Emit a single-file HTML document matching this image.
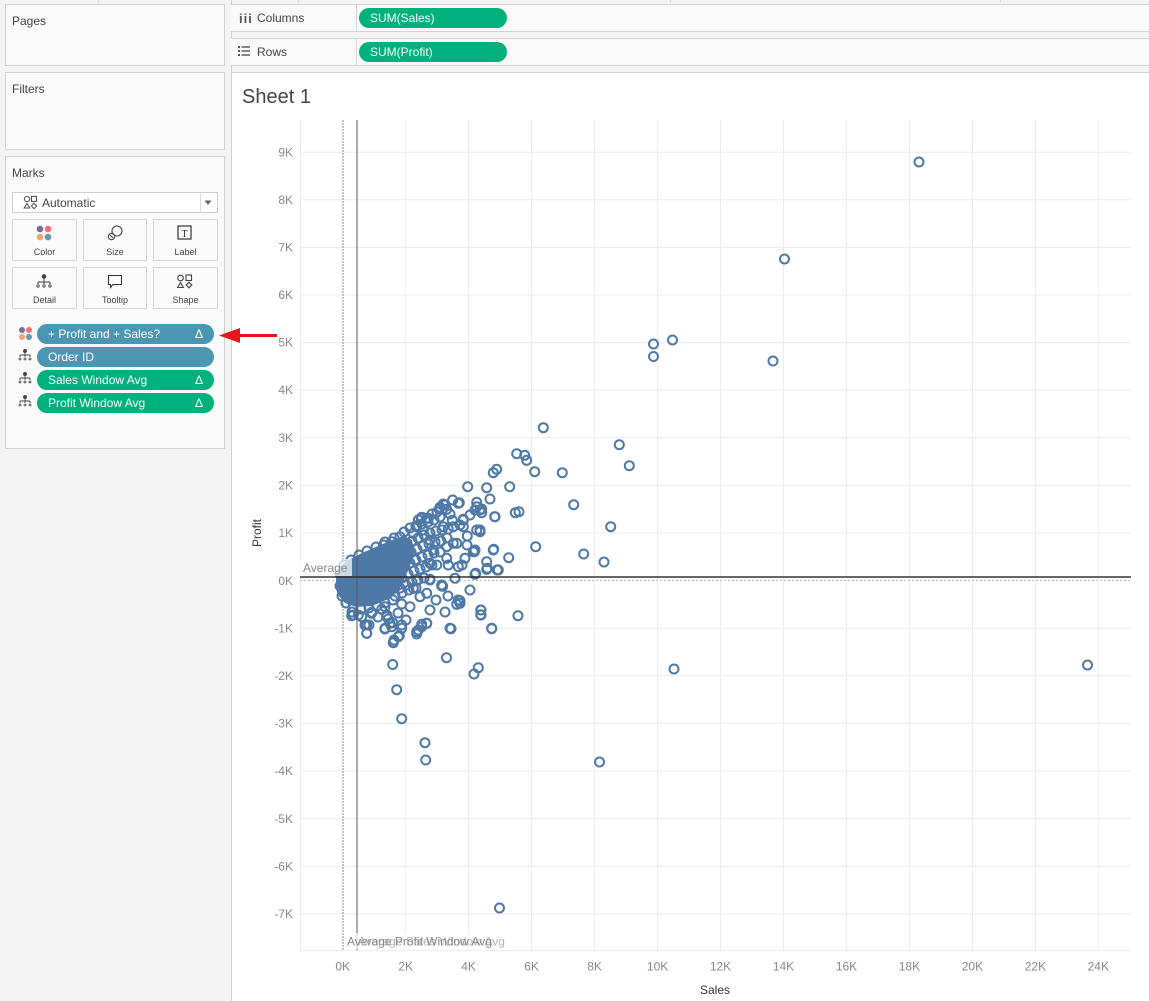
<!DOCTYPE html>
<html><head><meta charset="utf-8">
<style>
*{box-sizing:border-box;margin:0;padding:0}
body{width:1149px;height:1001px;overflow:hidden;position:relative;background:#f4f4f4;font-family:"Liberation Sans",Arial,sans-serif;color:#333}
.abs{position:absolute}
.panel{position:absolute;background:#fafafa;border:1px solid #d2d2d2}
.ptitle{position:absolute;left:6px;font-size:12px;color:#444}
.btn{position:absolute;background:#fafafa;border:1px solid #d6d6d6}
.btn span{position:absolute;left:0;right:0;text-align:center;font-size:9px;color:#444;top:27px}
.pill{position:absolute;border-radius:10px;color:#fff;font-size:12px;line-height:20px;padding-left:11px;height:20px}
.tri{position:absolute;right:11px;top:0;font-size:12px}
.shelf{position:absolute;left:231px;width:918px;background:#f9f9f9;border-top:1px solid #d4d4d4;border-bottom:1px solid #d4d4d4}
</style></head><body>
<div class="abs" style="left:98px;top:0;width:1px;height:3px;background:#ddd"></div>
<div class="abs" style="left:298px;top:0;width:1px;height:3px;background:#ddd"></div>
<div class="abs" style="left:670px;top:0;width:1px;height:3px;background:#ddd"></div>
<div class="abs" style="left:1000px;top:0;width:1px;height:3px;background:#ddd"></div>

<div class="panel" style="left:5px;top:4px;width:220px;height:62px"><div class="ptitle" style="top:9px">Pages</div></div>
<div class="panel" style="left:5px;top:72px;width:220px;height:78px"><div class="ptitle" style="top:9px">Filters</div></div>
<div class="panel" style="left:5px;top:156px;width:220px;height:293px">
  <div class="ptitle" style="top:9px">Marks</div>
</div>
<div class="abs" style="left:12px;top:192px;width:206px;height:21px;background:#fff;border:1px solid #cfcfcf"></div>
<div class="abs" style="left:200px;top:193px;width:1px;height:19px;background:#ddd"></div>
<svg class="abs" style="left:203px;top:199px" width="10" height="8"><path d="M1.5,1.5 L8.5,1.5 L5,6 Z" fill="#666"/></svg>
<svg class="abs" style="left:23px;top:195px" width="15" height="15"><g fill="none" stroke="#555" stroke-width="1.1"><circle cx="4" cy="4" r="2.6"/><rect x="8.5" y="1.4" width="5" height="5"/><path d="M4,8.5 L6.8,13 L1.2,13 Z"/><path d="M11,8.3 L13.6,11 L11,13.7 L8.4,11 Z"/></g></svg>
<div class="abs" style="left:42px;top:196px;font-size:12px;color:#444">Automatic</div>

<div class="btn" style="left:12px;top:219px;width:65px;height:42px"><span>Color</span></div>
<div class="btn" style="left:83px;top:219px;width:64px;height:42px"><span>Size</span></div>
<div class="btn" style="left:153px;top:219px;width:65px;height:42px"><span>Label</span></div>
<div class="btn" style="left:12px;top:267px;width:65px;height:42px"><span>Detail</span></div>
<div class="btn" style="left:83px;top:267px;width:64px;height:42px"><span>Tooltip</span></div>
<div class="btn" style="left:153px;top:267px;width:65px;height:42px"><span>Shape</span></div>
<svg class="abs" style="left:0;top:0" width="230" height="420">
  <circle cx="40" cy="229" r="3.3" fill="#7b6b96"/><circle cx="48" cy="229" r="3.3" fill="#f0707c"/>
  <circle cx="40" cy="237" r="3.3" fill="#f0a474"/><circle cx="48" cy="237" r="3.3" fill="#6a99a3"/>
  <g fill="none" stroke="#444" stroke-width="1.1"><circle cx="117" cy="231" r="5"/><circle cx="111.5" cy="236.5" r="3.2"/><path d="M110,235 L113,238"/></g>
  <rect x="178" y="226" width="13" height="13" fill="none" stroke="#333" stroke-width="1.2"/>
  <text x="184.5" y="237" font-size="10" text-anchor="middle" fill="#333" font-family="Liberation Serif,serif">T</text>
  <g fill="#444" stroke="#444" stroke-width="1"><circle cx="44" cy="276.5" r="1.8"/><path d="M44,278 V282 M38,282 H50 M38,282 V284 M44,282 V284 M50,282 V284" fill="none"/></g>
  <g fill="none" stroke="#444" stroke-width="0.9"><circle cx="38" cy="286" r="1.2"/><circle cx="44" cy="286" r="1.2"/><circle cx="50" cy="286" r="1.2"/></g>
  <path d="M108.5,275.5 H121.5 V284.5 H113 L110.5,287.5 V284.5 H108.5 Z" fill="none" stroke="#333" stroke-width="1.1"/>
  <g fill="none" stroke="#444" stroke-width="1.1"><circle cx="180.5" cy="278" r="2.8"/><rect x="186" y="275" width="5.5" height="5.5"/><path d="M180.5,282.5 L183.3,287.5 L177.7,287.5 Z"/><path d="M189,282.3 L191.8,285 L189,287.7 L186.2,285 Z"/></g>
  <circle cx="22" cy="330" r="3" fill="#7b6b96"/><circle cx="29" cy="330" r="3" fill="#f0707c"/>
  <circle cx="22" cy="337" r="3" fill="#f0a474"/><circle cx="29" cy="337" r="3" fill="#6a99a3"/>
  <g id="det">
  <g fill="#444" stroke="#444" stroke-width="0.9"><circle cx="25" cy="351" r="1.5"/><path d="M25,352 V355 M20,355 H30 M20,355 V357 M25,355 V357 M30,355 V357" fill="none"/></g>
  <g fill="none" stroke="#444" stroke-width="0.8"><circle cx="20" cy="359" r="1"/><circle cx="25" cy="359" r="1"/><circle cx="30" cy="359" r="1"/></g>
  </g>
  <use href="#det" y="23"/>
  <use href="#det" y="46"/>
</svg>
<div class="pill" style="left:37px;top:324px;width:177px;background:#4b96b3">+ Profit and + Sales?<span class="tri">Δ</span></div>
<div class="pill" style="left:37px;top:347px;width:177px;background:#4b96b3">Order ID</div>
<div class="pill" style="left:37px;top:370px;width:177px;background:#00b07d">Sales Window Avg<span class="tri">Δ</span></div>
<div class="pill" style="left:37px;top:393px;width:177px;background:#00b07d">Profit Window Avg<span class="tri">Δ</span></div>

<div class="abs" style="left:231px;top:0;width:1px;height:1001px;background:#d0d0d0"></div>

<div class="shelf" style="top:4px;height:28px"></div>
<div class="shelf" style="top:38px;height:28px"></div>
<div class="abs" style="left:356px;top:5px;width:1px;height:26px;background:#d8d8d8"></div>
<div class="abs" style="left:356px;top:39px;width:1px;height:26px;background:#d8d8d8"></div>
<div class="abs" style="left:239px;top:11px;font-size:13px;font-weight:bold;color:#555;letter-spacing:1px">iii</div>
<div class="abs" style="left:257px;top:11px;font-size:12px;color:#444">Columns</div>
<svg class="abs" style="left:238px;top:45px" width="14" height="12"><g fill="#555"><rect x="0" y="1" width="2" height="2"/><rect x="0" y="5" width="2" height="2"/><rect x="0" y="9" width="2" height="2"/><rect x="3.5" y="1.3" width="8.5" height="1.4"/><rect x="3.5" y="5.3" width="8.5" height="1.4"/><rect x="3.5" y="9.3" width="8.5" height="1.4"/></g></svg>
<div class="abs" style="left:257px;top:45px;font-size:12px;color:#444">Rows</div>
<div class="pill" style="left:359px;top:8px;width:148px;height:20px;background:#00b07d">SUM(Sales)</div>
<div class="pill" style="left:359px;top:42px;width:148px;height:20px;background:#00b07d">SUM(Profit)</div>

<div class="abs" style="left:232px;top:72px;width:917px;height:929px;background:#fff;border-top:1px solid #d4d4d4"></div>
<div class="abs" style="left:242px;top:86px;font-size:20px;color:#444">Sheet 1</div>

<svg class="abs" style="left:0;top:0" width="1149" height="1001" font-family="Liberation Sans,Arial,sans-serif">
  <g stroke="#ececec" stroke-width="1">
    <path d="M300.5,120 V950 M405.7,120 V950 M468.6,120 V950 M531.6,120 V950 M594.6,120 V950 M657.6,120 V950 M720.5,120 V950 M783.5,120 V950 M846.5,120 V950 M909.4,120 V950 M972.4,120 V950 M1035.4,120 V950 M1098.3,120 V950"/>
    <path d="M300,152.2 H1131 M300,199.8 H1131 M300,247.4 H1131 M300,295 H1131 M300,342.6 H1131 M300,390.2 H1131 M300,437.8 H1131 M300,485.4 H1131 M300,533 H1131 M300,628.2 H1131 M300,675.8 H1131 M300,723.4 H1131 M300,771 H1131 M300,818.6 H1131 M300,866.2 H1131 M300,913.8 H1131 M300,950.5 H1131"/>
  </g>
  <path d="M343,120 V950" stroke="#b0b0b0" stroke-width="1.5" stroke-dasharray="2,1"/>
  <path d="M300,580.6 H1131" stroke="#bbb" stroke-width="1" stroke-dasharray="2,2"/>

  <g font-size="12" fill="#888" text-anchor="end">
    <text x="293" y="156.5">9K</text><text x="293" y="204">8K</text><text x="293" y="251.5">7K</text>
    <text x="293" y="299">6K</text><text x="293" y="346.5">5K</text><text x="293" y="394">4K</text>
    <text x="293" y="442">3K</text><text x="293" y="489.5">2K</text><text x="293" y="537">1K</text>
    <text x="293" y="585">0K</text><text x="293" y="632.5">-1K</text><text x="293" y="680">-2K</text>
    <text x="293" y="727.5">-3K</text><text x="293" y="775">-4K</text><text x="293" y="823">-5K</text>
    <text x="293" y="870.5">-6K</text><text x="293" y="918">-7K</text>
  </g>
  <g font-size="12" fill="#888" text-anchor="middle">
    <text x="342.7" y="970.5">0K</text><text x="405.7" y="970.5">2K</text><text x="468.6" y="970.5">4K</text>
    <text x="531.6" y="970.5">6K</text><text x="594.6" y="970.5">8K</text><text x="657.6" y="970.5">10K</text>
    <text x="720.5" y="970.5">12K</text><text x="783.5" y="970.5">14K</text><text x="846.5" y="970.5">16K</text>
    <text x="909.4" y="970.5">18K</text><text x="972.4" y="970.5">20K</text><text x="1035.4" y="970.5">22K</text>
    <text x="1098.3" y="970.5">24K</text>
  </g>
  <text x="715" y="994" font-size="12" fill="#333" text-anchor="middle">Sales</text>
  <text transform="translate(261,533) rotate(-90)" font-size="12" fill="#333" text-anchor="middle">Profit</text>

  <path d="M336,580 C336,571 340,566 347,561 L362,553 L378,546 L392,540 L404,536 L412,540 L414,552 L410,566 L404,580 L398,592 L386,600 L372,606 L356,607 L345,603 L338,595 C336,590 336,585 336,580 Z" fill="#4e79a7"/>

  <g fill="none" stroke="#4e79a7" stroke-width="2">
    <circle cx="340" cy="574" r="4.5"/><circle cx="340" cy="586" r="4.5"/><circle cx="342" cy="596" r="4.5"/>
    <circle cx="346" cy="603" r="4.5"/><circle cx="353" cy="607" r="4.5"/><circle cx="361" cy="609" r="4.5"/>
    <circle cx="369" cy="608" r="4.5"/><circle cx="377" cy="606" r="4.5"/><circle cx="385" cy="603" r="4.5"/>
    <circle cx="393" cy="600" r="4.5"/><circle cx="344" cy="565" r="4.5"/><circle cx="351" cy="560" r="4.5"/>
    <circle cx="359" cy="555" r="4.5"/><circle cx="367" cy="551" r="4.5"/><circle cx="376" cy="547" r="4.5"/>
    <circle cx="385" cy="542" r="4.5"/><circle cx="394" cy="538" r="4.5"/><circle cx="352" cy="612" r="4.5"/>
    <circle cx="404" cy="532" r="4.5"/><circle cx="410" cy="528" r="4.5"/><circle cx="416" cy="526" r="4.5"/><circle cx="422" cy="524" r="4.5"/><circle cx="428" cy="522" r="4.5"/><circle cx="434" cy="520" r="4.5"/><circle cx="440" cy="517" r="4.5"/>
    <circle cx="406" cy="545" r="4.5"/><circle cx="412" cy="541" r="4.5"/><circle cx="418" cy="538" r="4.5"/><circle cx="424" cy="535" r="4.5"/><circle cx="430" cy="533" r="4.5"/><circle cx="436" cy="531" r="4.5"/><circle cx="442" cy="530" r="4.5"/>
    <circle cx="405" cy="556" r="4.5"/><circle cx="411" cy="552" r="4.5"/><circle cx="417" cy="549" r="4.5"/><circle cx="423" cy="546" r="4.5"/><circle cx="429" cy="544" r="4.5"/><circle cx="435" cy="542" r="4.5"/><circle cx="441" cy="541" r="4.5"/><circle cx="447" cy="538" r="4.5"/>
    <circle cx="404" cy="567" r="4.5"/><circle cx="410" cy="563" r="4.5"/><circle cx="416" cy="560" r="4.5"/><circle cx="422" cy="557" r="4.5"/><circle cx="428" cy="555" r="4.5"/><circle cx="434" cy="553" r="4.5"/><circle cx="440" cy="552" r="4.5"/>
    <circle cx="402" cy="578" r="4.5"/><circle cx="408" cy="574" r="4.5"/><circle cx="414" cy="571" r="4.5"/><circle cx="420" cy="569" r="4.5"/><circle cx="426" cy="567" r="4.5"/><circle cx="432" cy="565" r="4.5"/>
    <circle cx="400" cy="588" r="4.5"/><circle cx="406" cy="585" r="4.5"/><circle cx="412" cy="582" r="4.5"/><circle cx="418" cy="580" r="4.5"/><circle cx="424" cy="578" r="4.5"/>
    <circle cx="395" cy="596" r="4.5"/><circle cx="402" cy="593" r="4.5"/><circle cx="409" cy="590" r="4.5"/><circle cx="416" cy="588" r="4.5"/>
    <circle cx="426.7" cy="518.3" r="4.5"/><circle cx="418.3" cy="520" r="4.5"/><circle cx="440" cy="507.3" r="4.5"/><circle cx="445" cy="505" r="4.5"/>
    <circle cx="458.3" cy="503.3" r="4.5"/><circle cx="476.7" cy="506.7" r="4.5"/><circle cx="481.7" cy="512.7" r="4.5"/><circle cx="495" cy="516.7" r="4.5"/>
    <circle cx="463.3" cy="520" r="4.5"/><circle cx="453.3" cy="526.7" r="4.5"/><circle cx="476.7" cy="530" r="4.5"/><circle cx="480" cy="531.7" r="4.5"/>
    <circle cx="493.3" cy="550" r="4.5"/><circle cx="473.3" cy="551.7" r="4.5"/><circle cx="486.7" cy="561.7" r="4.5"/><circle cx="498.3" cy="570" r="4.5"/>
    <circle cx="475.7" cy="573.3" r="4.5"/><circle cx="458.3" cy="566.7" r="4.5"/><circle cx="446.7" cy="558.3" r="4.5"/><circle cx="448.3" cy="565" r="4.5"/>
    <circle cx="436.7" cy="565" r="4.5"/><circle cx="430" cy="580" r="4.5"/><circle cx="455" cy="578.3" r="4.5"/><circle cx="441.7" cy="586" r="4.5"/>
    <circle cx="458.3" cy="600" r="4.5"/><circle cx="460" cy="603.3" r="4.5"/><circle cx="481" cy="610" r="4.5"/><circle cx="481" cy="615" r="4.5"/>
    <circle cx="491.7" cy="628.3" r="4.5"/><circle cx="450" cy="628.3" r="4.5"/><circle cx="426.7" cy="623.3" r="4.5"/><circle cx="421.7" cy="626.7" r="4.5"/>
    <circle cx="416.7" cy="631.7" r="4.5"/><circle cx="410" cy="606.7" r="4.5"/><circle cx="401.7" cy="628.3" r="4.5"/><circle cx="398.3" cy="636.7" r="4.5"/>
    <circle cx="393.3" cy="642.7" r="4.5"/><circle cx="385" cy="628.3" r="4.5"/><circle cx="390" cy="623.3" r="4.5"/><circle cx="386.7" cy="616.7" r="4.5"/>
    <circle cx="385" cy="606.7" r="4.5"/><circle cx="371.7" cy="613.3" r="4.5"/><circle cx="366.7" cy="625" r="4.5"/><circle cx="366.7" cy="633.3" r="4.5"/>
    <circle cx="353.3" cy="615" r="4.5"/><circle cx="361.7" cy="616.7" r="4.5"/><circle cx="420" cy="596.7" r="4.5"/><circle cx="426.7" cy="593.3" r="4.5"/>
    <circle cx="413.3" cy="588.3" r="4.5"/><circle cx="416.7" cy="580" r="4.5"/><circle cx="430" cy="563.3" r="4.5"/><circle cx="415" cy="560" r="4.5"/>
    <circle cx="433.3" cy="550" r="4.5"/><circle cx="446.7" cy="546.7" r="4.5"/><circle cx="430" cy="540" r="4.5"/><circle cx="423.3" cy="530" r="4.5"/>
    <circle cx="413.3" cy="533.3" r="4.5"/><circle cx="400" cy="536.7" r="4.5"/><circle cx="391.7" cy="541.7" r="4.5"/><circle cx="383.3" cy="545" r="4.5"/>
    <circle cx="443.3" cy="526.7" r="4.5"/><circle cx="453.3" cy="543.3" r="4.5"/><circle cx="421.7" cy="517.3" r="4.5"/><circle cx="416.7" cy="526.7" r="4.5"/>
    <circle cx="463.3" cy="526.7" r="4.5"/><circle cx="448.3" cy="529" r="4.5"/><circle cx="456.7" cy="543.3" r="4.5"/><circle cx="465" cy="558.3" r="4.5"/>
    <circle cx="474.3" cy="551.7" r="4.5"/><circle cx="442.7" cy="586.3" r="4.5"/><circle cx="475" cy="574.3" r="4.5"/><circle cx="487.3" cy="568.3" r="4.5"/>
    <circle cx="497.7" cy="569.7" r="4.5"/><circle cx="467.3" cy="536" r="4.5"/><circle cx="480" cy="530" r="4.5"/>
    <circle cx="475" cy="550" r="4.5"/><circle cx="441.7" cy="585" r="4.5"/>
    <circle cx="452.3" cy="520.3" r="4.5"/><circle cx="463.3" cy="519.3" r="4.5"/><circle cx="460" cy="525" r="4.5"/><circle cx="475" cy="510" r="4.5"/>
    <circle cx="481.7" cy="509" r="4.5"/><circle cx="421.3" cy="518.3" r="4.5"/><circle cx="428.3" cy="518.3" r="4.5"/><circle cx="416" cy="525.7" r="4.5"/>
    <circle cx="439.3" cy="509.3" r="4.5"/><circle cx="446.7" cy="509.3" r="4.5"/><circle cx="443.3" cy="504" r="4.5"/><circle cx="452.7" cy="500" r="4.5"/>
    <circle cx="459.3" cy="502.7" r="4.5"/><circle cx="437" cy="512" r="4.5"/><circle cx="432" cy="514" r="4.5"/><circle cx="450" cy="514" r="4.5"/>
    <circle cx="470" cy="515" r="4.5"/><circle cx="467" cy="545" r="4.5"/><circle cx="462" cy="565" r="4.5"/><circle cx="470" cy="590" r="4.5"/>
    <circle cx="448" cy="596" r="4.5"/><circle cx="436" cy="600" r="4.5"/><circle cx="445" cy="612" r="4.5"/><circle cx="430" cy="610" r="4.5"/>
    <circle cx="398" cy="613" r="4.5"/><circle cx="378" cy="617" r="4.5"/><circle cx="406" cy="620" r="4.5"/>
    <circle cx="467.7" cy="486.7" r="4.5"/><circle cx="486.7" cy="487.7" r="4.5"/><circle cx="509.7" cy="486.7" r="4.5"/>
    <circle cx="490" cy="499" r="4.5"/><circle cx="476.7" cy="502.3" r="4.5"/><circle cx="515.3" cy="512.7" r="4.5"/>
    <circle cx="519" cy="511.7" r="4.5"/><circle cx="480" cy="510" r="4.5"/><circle cx="494.7" cy="516.7" r="4.5"/>
    <circle cx="496.7" cy="469.3" r="4.5"/><circle cx="493.3" cy="472.7" r="4.5"/><circle cx="516.7" cy="453.7" r="4.5"/>
    <circle cx="524.7" cy="455.3" r="4.5"/><circle cx="526.7" cy="460.3" r="4.5"/><circle cx="534.7" cy="471.7" r="4.5"/>
    <circle cx="562.3" cy="472.7" r="4.5"/><circle cx="543.3" cy="427.7" r="4.5"/><circle cx="619.3" cy="444.7" r="4.5"/>
    <circle cx="629.3" cy="465.7" r="4.5"/><circle cx="573.7" cy="504.7" r="4.5"/><circle cx="610.7" cy="526.7" r="4.5"/>
    <circle cx="535.7" cy="546.7" r="4.5"/><circle cx="583.7" cy="554" r="4.5"/><circle cx="604" cy="562" r="4.5"/>
    <circle cx="493.7" cy="549.3" r="4.5"/><circle cx="508.7" cy="557.7" r="4.5"/><circle cx="497.3" cy="570" r="4.5"/>
    <circle cx="486.7" cy="569.3" r="4.5"/>
    <circle cx="919" cy="162" r="4.5"/><circle cx="784.5" cy="259" r="4.5"/><circle cx="653.5" cy="344" r="4.5"/>
    <circle cx="672.5" cy="340" r="4.5"/><circle cx="653.5" cy="356.5" r="4.5"/><circle cx="773" cy="361" r="4.5"/>
    <circle cx="674" cy="669" r="4.5"/><circle cx="1087.5" cy="665" r="4.5"/><circle cx="599.5" cy="762" r="4.5"/>
    <circle cx="499.5" cy="908" r="4.5"/>
    <circle cx="392.7" cy="664.5" r="4.5"/><circle cx="396.7" cy="689.7" r="4.5"/><circle cx="401.7" cy="718.7" r="4.5"/>
    <circle cx="425" cy="742.7" r="4.5"/><circle cx="425.7" cy="760" r="4.5"/><circle cx="446.5" cy="657.7" r="4.5"/>
    <circle cx="474" cy="674" r="4.5"/><circle cx="478.3" cy="667.7" r="4.5"/><circle cx="451" cy="628.7" r="4.5"/>
    <circle cx="491.7" cy="628.7" r="4.5"/><circle cx="518" cy="615.7" r="4.5"/><circle cx="480.7" cy="610" r="4.5"/>
    <circle cx="480.7" cy="614.7" r="4.5"/><circle cx="456.7" cy="604.3" r="4.5"/><circle cx="460" cy="600.7" r="4.5"/>
    <circle cx="416.7" cy="634" r="4.5"/><circle cx="418.3" cy="630" r="4.5"/><circle cx="421.7" cy="624.3" r="4.5"/>
    <circle cx="426.7" cy="623.3" r="4.5"/><circle cx="393.3" cy="642.3" r="4.5"/><circle cx="394" cy="640" r="4.5"/>
    <circle cx="399.3" cy="635.7" r="4.5"/><circle cx="401.7" cy="625" r="4.5"/><circle cx="385" cy="629" r="4.5"/>
    <circle cx="366.7" cy="633.3" r="4.5"/><circle cx="365" cy="625" r="4.5"/><circle cx="369" cy="625" r="4.5"/>
    <circle cx="371.7" cy="612.3" r="4.5"/><circle cx="351.7" cy="615.7" r="4.5"/>
    <circle cx="386.7" cy="615" r="4.5"/><circle cx="388.3" cy="619" r="4.5"/>
    <circle cx="391.7" cy="626.7" r="4.5"/><circle cx="392.7" cy="622.7" r="4.5"/><circle cx="358.3" cy="615" r="4.5"/>
    <circle cx="430" cy="579.3" r="4.5"/><circle cx="401.7" cy="604" r="4.5"/><circle cx="381.7" cy="609.3" r="4.5"/>
  </g>

  <path d="M357,120 V950" stroke="rgba(90,90,90,0.5)" stroke-width="2"/>
  <path d="M300,577 H1131" stroke="rgba(40,40,40,0.7)" stroke-width="2"/>

  <rect x="300" y="559" width="52" height="17" fill="rgba(255,255,255,0.72)"/>
  <text x="303" y="572" font-size="12" fill="#888">Average</text>
  <rect x="345" y="933" width="168" height="16" fill="rgba(255,255,255,0.7)"/>
  <text x="358" y="945.5" font-size="12" fill="#b5b5b5">Average Sales Window Avg</text>
  <text x="347" y="945.5" font-size="12" fill="#888">Average Profit Window Avg</text>

  <!-- red arrow -->
  <path d="M277,335.5 L236,335.5" stroke="#e3191c" stroke-width="3"/>
  <path d="M219,335.5 L240,328 L240,343 Z" fill="#e3191c"/>
</svg>
</body></html>
